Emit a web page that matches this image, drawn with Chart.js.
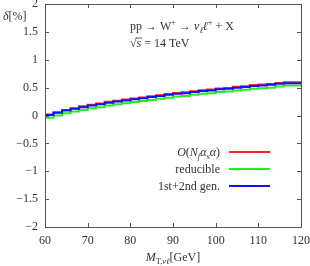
<!DOCTYPE html>
<html><head><meta charset="utf-8">
<script src="https://cdn.jsdelivr.net/npm/chart.js@4/dist/chart.umd.min.js"></script>
<style>html,body{margin:0;padding:0;background:#fff;}canvas{display:block;}</style>
</head><body>
<canvas id="c" width="310" height="266"></canvas>
<script>
// bin edges (GeV) and per-bin values (%)
const binEdges = [60,62,64,66,68,70,72,74,76,78,80,82,84,86,88,90,92,94,96,98,100,102,104,106,108,110,112,114,116,118,120];
const redVals = [-0.03,0.02,0.06,0.10,0.13,0.165,0.195,0.215,0.245,0.265,0.285,0.305,0.325,0.345,0.365,0.385,0.405,0.415,0.435,0.455,0.465,0.485,0.495,0.515,0.525,0.545,0.555,0.565,0.585,0.595];
const greenVals = [-0.10,-0.04,0.00,0.04,0.07,0.10,0.13,0.15,0.18,0.20,0.22,0.24,0.26,0.28,0.30,0.32,0.34,0.35,0.37,0.39,0.40,0.42,0.43,0.45,0.46,0.48,0.49,0.50,0.52,0.54];
const blueVals = [-0.04,0.01,0.05,0.09,0.12,0.15,0.18,0.20,0.23,0.25,0.27,0.29,0.31,0.33,0.35,0.37,0.39,0.40,0.42,0.44,0.45,0.47,0.48,0.50,0.51,0.53,0.54,0.55,0.57,0.58];
const xTicks = [60,70,80,90,100,110,120];
const yTicks = [-2,-1.5,-1,-0.5,0,0.5,1,1.5,2];

function stepData(vals){
  const pts = vals.map((v,i)=>({x:binEdges[i], y:v}));
  pts.push({x:binEdges[binEdges.length-1], y:vals[vals.length-1]});
  return pts;
}
const FONT = '"Liberation Serif", "DejaVu Serif", serif';
const FS = 12;
const fmt = v => (v<0 ? '\u2212' : '') + Math.abs(v);

function rich(ctx, segs, x, y, size, align){
  let w = 0;
  const parts = segs.map(s=>{
    const sz = (s.sub||s.sup) ? size*0.7 : size;
    const f = (s.it?'italic ':'') + sz + 'px ' + FONT;
    ctx.font = f;
    const mw = ctx.measureText(s.t).width;
    const p = {t:s.t, f, w:mw, dy: s.sub ? size*0.25 : (s.sup ? -size*0.38 : 0), over:s.over};
    w += mw;
    return p;
  });
  let cx = align==='right' ? x - w : (align==='center' ? x - w/2 : x);
  ctx.textAlign = 'left';
  ctx.textBaseline = 'alphabetic';
  parts.forEach(p=>{
    ctx.font = p.f;
    ctx.fillText(p.t, cx, y + p.dy);
    if (p.over){
      ctx.fillRect(cx-1, y - size*0.78, p.w+2, 0.8);
    }
    cx += p.w;
  });
}

const deco = {
  id:'deco',
  afterDraw(chart){
    const ctx = chart.ctx, a = chart.chartArea;
    const xs = chart.scales.x, ys = chart.scales.y;
    ctx.save();
    ctx.strokeStyle = '#555';
    ctx.lineWidth = 1;
    ctx.beginPath();
    ctx.rect(Math.round(a.left)+0.5, Math.round(a.top)+0.5, Math.round(a.right-a.left), Math.round(a.bottom-a.top));
    ctx.stroke();
    ctx.beginPath();
    xTicks.forEach(v=>{
      const px = Math.round(xs.getPixelForValue(v))+0.5;
      ctx.moveTo(px, a.bottom); ctx.lineTo(px, a.bottom-4);
      ctx.moveTo(px, a.top); ctx.lineTo(px, a.top+4);
    });
    yTicks.forEach(v=>{
      const py = Math.round(ys.getPixelForValue(v))+0.5;
      ctx.moveTo(a.left, py); ctx.lineTo(a.left+4, py);
      ctx.moveTo(a.right, py); ctx.lineTo(a.right-4, py);
    });
    ctx.stroke();

    ctx.fillStyle = '#333';
    rich(ctx, [{t:'\u03b4',it:true},{t:'[%]'}], 3, 20, FS, 'left');
    rich(ctx, [{t:'M',it:true},{t:'T,',sub:true},{t:'\u03bd\u2113',sub:true,it:true},{t:'[GeV]'}], 173, 261, FS, 'center');
    rich(ctx, [{t:'pp \u2192 W'},{t:'+',sup:true},{t:' \u2192 '},{t:'\u03bd',it:true},{t:'\u2113',sub:true,it:true},{t:'\u2113',it:true},{t:'+',sup:true},{t:' + X'}], 130, 30, FS, 'left');
    rich(ctx, [{t:'\u221a'},{t:'s',it:true,over:true},{t:' = 14 TeV'}], 130, 47, FS, 'left');

    const leg = [
      {segs:[{t:'O',it:true},{t:'('},{t:'N',it:true},{t:'f',sub:true,it:true},{t:'\u03b1',it:true},{t:'s',sub:true},{t:'\u03b1',it:true},{t:')'}], c:'#ff2020', y:152},
      {segs:[{t:'reducible'}], c:'#20ee20', y:169},
      {segs:[{t:'1st+2nd gen.'}], c:'#1010ff', y:186}
    ];
    leg.forEach(l=>{
      ctx.fillStyle = '#333';
      rich(ctx, l.segs, 220, l.y+4, FS, 'right');
      ctx.strokeStyle = l.c;
      ctx.lineWidth = 2;
      ctx.beginPath();
      ctx.moveTo(229, l.y); ctx.lineTo(270, l.y);
      ctx.stroke();
    });
    ctx.restore();
  }
};

const ds = (label, vals, color) => ({
  label, data: stepData(vals), borderColor: color, borderWidth: 2,
  stepped: 'after', pointRadius: 0, fill: false, tension: 0
});

new Chart(document.getElementById('c'), {
  type: 'line',
  data: { datasets: [
    ds('1st+2nd gen.', blueVals, '#1010ff'),
    ds('reducible', greenVals, '#20ee20'),
    ds('O(Nf as a)', redVals, '#ff2020')
  ]},
  options: {
    responsive: false, animation: false,
    layout: { padding: { left: 0, right: 9, top: 4, bottom: 0 } },
    plugins: { legend: { display: false }, tooltip: { enabled: false } },
    scales: {
      x: {
        type: 'linear', min: 60, max: 120,
        afterBuildTicks: s => { s.ticks = xTicks.map(v=>({value:v})); },
        afterFit: s => { s.height = 39; s.paddingLeft = 0; s.paddingRight = 0; },
        grid: { display: false, drawTicks: false },
        border: { display: false },
        ticks: { padding: 7, color: '#333', font: { family: FONT, size: FS }, maxRotation: 0, autoSkip: false }
      },
      y: {
        type: 'linear', min: -2, max: 2,
        afterBuildTicks: s => { s.ticks = yTicks.map(v=>({value:v})); },
        afterFit: s => { s.width = 45; s.paddingTop = 0; s.paddingBottom = 0; },
        grid: { display: false, drawTicks: false },
        border: { display: false },
        ticks: { padding: 7, color: '#333', font: { family: FONT, size: FS }, callback: v => fmt(v), autoSkip: false }
      }
    }
  },
  plugins: [deco]
});
</script>
</body></html>
